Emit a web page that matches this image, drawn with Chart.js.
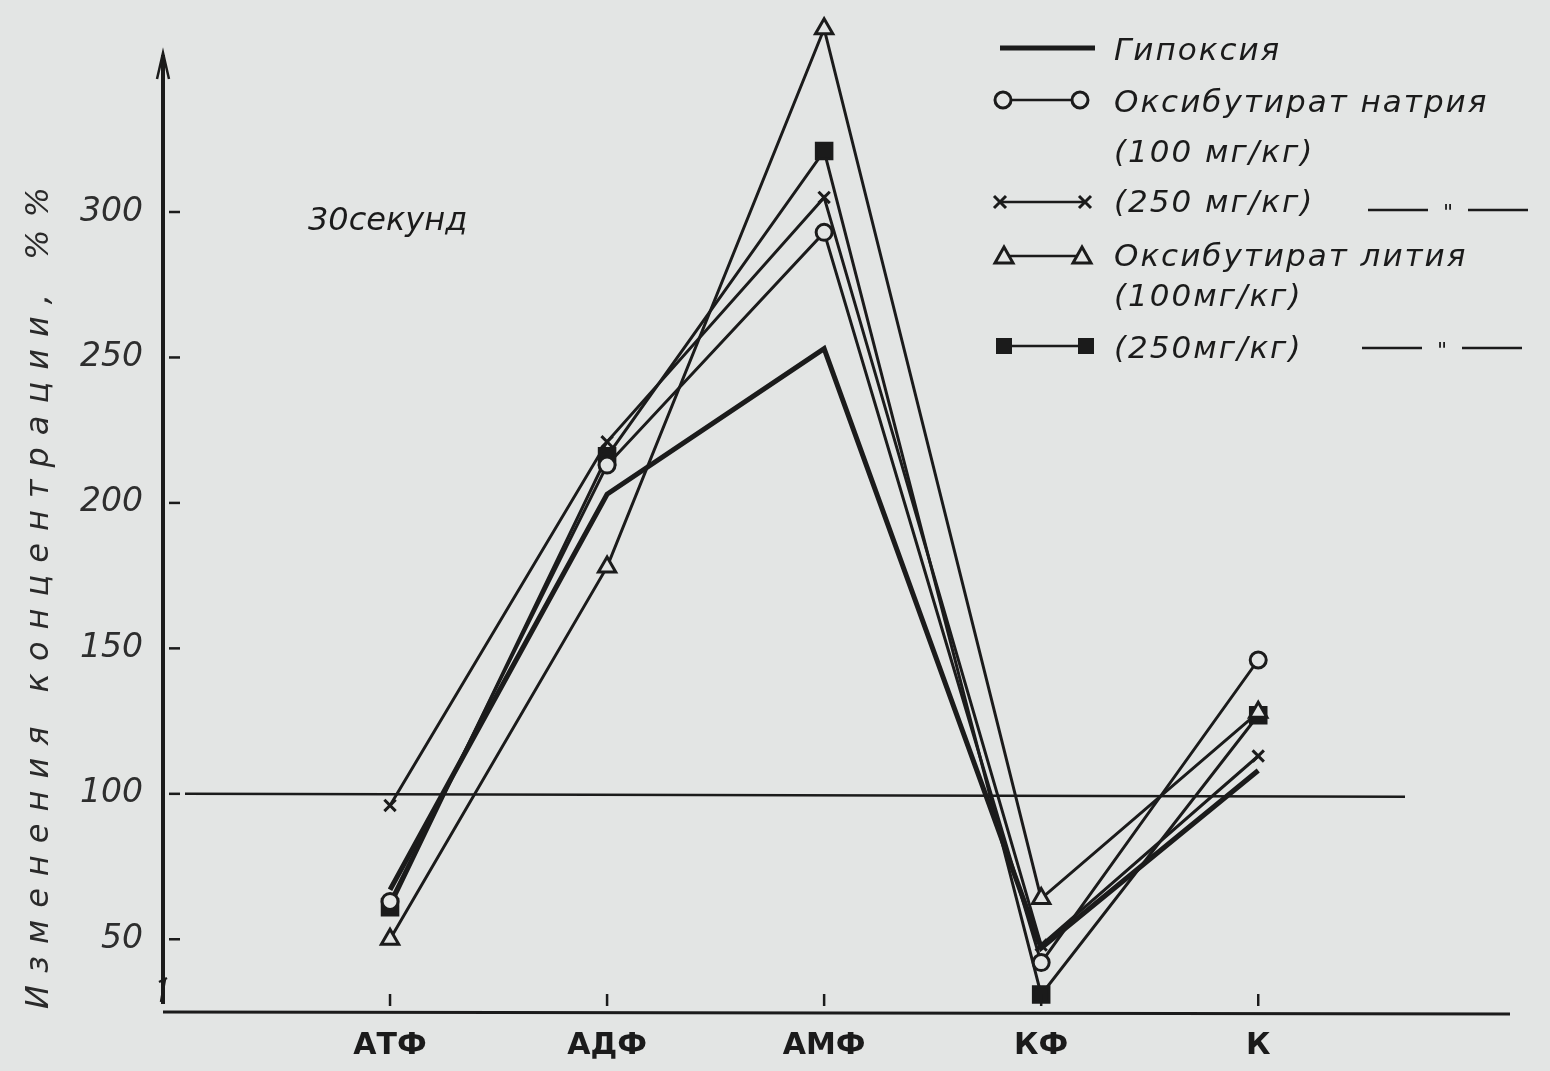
<!DOCTYPE html>
<html lang="ru">
<head>
<meta charset="utf-8">
<title>30 секунд</title>
<script src="https://cdn.jsdelivr.net/npm/chart.js@4.4.1/dist/chart.umd.min.js"></script>
<style>
  html, body { margin: 0; padding: 0; background: #e3e5e4; }
  #wrap { width: 1550px; height: 1071px; }
</style>
</head>
<body>
<div id="wrap"><canvas id="myChart" width="1550" height="1071"></canvas></div>
<script>
// values, % of control
const categories = ['АТФ', 'АДФ', 'АМФ', 'КФ', 'К'];
const hypoxia    = [67, 203, 253, 47, 108];
const natrium100 = [63, 213, 293, 42, 146];
const natrium250 = [96, 221, 305, 48, 113];
const lithium100 = [50, 178, 363, 64, 128];
const lithium250 = [61, 216, 321, 31, 127];
const yTicks = [50, 100, 150, 200, 250, 300];
const baseline = 100;
const axisTop = 354;

const ink = '#1b1b1b';
const paper = '#e3e5e4';
const fam = "'DejaVu Sans', sans-serif";

const toPoints = arr => arr.map((v, i) => ({ x: i, y: v }));

function lineSet(label, data, extra) {
  return Object.assign({
    label: label,
    data: toPoints(data),
    borderColor: ink,
    borderWidth: 3,
    pointBorderColor: ink,
    pointBackgroundColor: paper,
    pointBorderWidth: 3,
    tension: 0,
    clip: false
  }, extra);
}

// legend, title, axes drawn by hand like the original drawing
function marker(ctx, kind, x, y) {
  ctx.save();
  ctx.lineWidth = 3;
  ctx.strokeStyle = ink;
  ctx.fillStyle = paper;
  ctx.beginPath();
  if (kind === 'circle') {
    ctx.arc(x, y, 8, 0, Math.PI * 2);
    ctx.fill(); ctx.stroke();
  } else if (kind === 'tri') {
    ctx.moveTo(x, y - 9); ctx.lineTo(x + 9, y + 7); ctx.lineTo(x - 9, y + 7); ctx.closePath();
    ctx.fill(); ctx.stroke();
  } else if (kind === 'rect') {
    ctx.fillStyle = ink;
    ctx.rect(x - 8, y - 8, 16, 16);
    ctx.fill();
  } else if (kind === 'cross') {
    ctx.moveTo(x - 6, y - 6); ctx.lineTo(x + 6, y + 6);
    ctx.moveTo(x + 6, y - 6); ctx.lineTo(x - 6, y + 6);
    ctx.stroke();
  }
  ctx.restore();
}

function ditto(ctx, x, y) {
  ctx.save();
  ctx.strokeStyle = ink;
  ctx.lineWidth = 2.5;
  ctx.beginPath();
  ctx.moveTo(x, y); ctx.lineTo(x + 60, y);
  ctx.moveTo(x + 100, y); ctx.lineTo(x + 160, y);
  ctx.stroke();
  ctx.fillStyle = ink;
  ctx.font = 'italic 22px ' + fam;
  ctx.textAlign = 'center';
  ctx.textBaseline = 'middle';
  ctx.fillText('"', x + 80, y + 4);
  ctx.restore();
}

const decor = {
  id: 'decor',
  beforeDraw(chart) {
    const ctx = chart.ctx;
    ctx.save();
    ctx.fillStyle = paper;
    ctx.fillRect(0, 0, chart.width, chart.height);
    ctx.restore();
  },
  beforeDatasetsDraw(chart) {
    const ctx = chart.ctx, y = chart.scales.y, a = chart.chartArea;
    const py = y.getPixelForValue(baseline);
    ctx.save();
    ctx.strokeStyle = ink;
    ctx.lineWidth = 2.5;
    ctx.beginPath();
    ctx.moveTo(a.left + 22, py);
    ctx.lineTo(a.right - 105, py + 3);
    ctx.stroke();
    ctx.restore();
  },
  afterDraw(chart) {
    const ctx = chart.ctx, a = chart.chartArea;
    const x = chart.scales.x, y = chart.scales.y;
    ctx.save();
    ctx.strokeStyle = ink;
    ctx.fillStyle = ink;

    // y axis with arrow
    const top = y.getPixelForValue(axisTop);
    ctx.lineWidth = 4;
    ctx.beginPath();
    ctx.moveTo(a.left, top);
    ctx.lineTo(a.left, a.bottom - 8);
    ctx.stroke();
    ctx.lineWidth = 2.5;
    ctx.beginPath();
    ctx.moveTo(a.left - 6, top + 24);
    ctx.lineTo(a.left, top - 2);
    ctx.lineTo(a.left + 6, top + 24);
    ctx.stroke();

    // axis break sign
    ctx.lineWidth = 2.5;
    ctx.beginPath();
    ctx.moveTo(a.left - 4, a.bottom - 30);
    ctx.lineTo(a.left + 4, a.bottom - 34);
    ctx.moveTo(a.left + 2, a.bottom - 33);
    ctx.lineTo(a.left - 2, a.bottom - 10);
    ctx.stroke();

    // x axis
    ctx.lineWidth = 3;
    ctx.beginPath();
    ctx.moveTo(a.left, a.bottom);
    ctx.lineTo(a.right, a.bottom + 2);
    ctx.stroke();

    // inner tick marks
    ctx.lineWidth = 2.5;
    yTicks.forEach(v => {
      const p = y.getPixelForValue(v);
      ctx.beginPath();
      ctx.moveTo(a.left + 6, p);
      ctx.lineTo(a.left + 17, p);
      ctx.stroke();
    });
    categories.forEach((c, i) => {
      const p = x.getPixelForValue(i);
      ctx.beginPath();
      ctx.moveTo(p, a.bottom - 18);
      ctx.lineTo(p, a.bottom - 6);
      ctx.stroke();
    });

    // y axis title
    ctx.save();
    ctx.translate(40, 592);
    ctx.rotate(-Math.PI / 2);
    ctx.font = 'italic 32px ' + fam;
    ctx.letterSpacing = '12px';
    ctx.textAlign = 'center';
    ctx.textBaseline = 'middle';
    ctx.fillStyle = '#2a2a2a';
    ctx.fillText('Изменения концентрации, %%', 0, 0);
    ctx.restore();

    // panel note
    ctx.font = 'italic 32px ' + fam;
    ctx.textAlign = 'left';
    ctx.textBaseline = 'middle';
    ctx.fillText('30секунд', 308, 222);

    // legend
    ctx.lineWidth = 5;
    ctx.beginPath();
    ctx.moveTo(1000, 48); ctx.lineTo(1095, 48);
    ctx.stroke();
    [[100, 'circle', 1003, 1080], [202, 'cross', 1000, 1085], [256, 'tri', 1004, 1082], [346, 'rect', 1004, 1086]]
      .forEach(([py, kind, x1, x2]) => {
        ctx.lineWidth = 2.5;
        ctx.beginPath();
        ctx.moveTo(x1, py); ctx.lineTo(x2, py);
        ctx.stroke();
        marker(ctx, kind, x1, py);
        marker(ctx, kind, x2, py);
      });

    ctx.font = 'italic 31px ' + fam;
    ctx.letterSpacing = '2px';
    ctx.fillStyle = ink;
    ctx.fillText('Гипоксия', 1114, 52);
    ctx.fillText('Оксибутират натрия', 1114, 104);
    ctx.fillText('(100 мг/кг)', 1114, 154);
    ctx.fillText('(250 мг/кг)', 1114, 204);
    ctx.fillText('Оксибутират лития', 1114, 258);
    ctx.fillText('(100мг/кг)', 1114, 298);
    ctx.fillText('(250мг/кг)', 1114, 350);
    ctx.letterSpacing = '0px';
    ditto(ctx, 1368, 210);
    ditto(ctx, 1362, 348);
    ctx.restore();
  }
};

const ctx = document.getElementById('myChart');
const chart = new Chart(ctx, {
  type: 'line',
  data: {
    datasets: [
      lineSet('Гипоксия', hypoxia, { borderWidth: 5, pointRadius: 0 }),
      lineSet('Оксибутират натрия (100 мг/кг)', natrium100, { pointStyle: 'circle', pointRadius: 8 }),
      lineSet('Оксибутират натрия (250 мг/кг)', natrium250, { pointStyle: 'crossRot', pointRadius: 8 }),
      lineSet('Оксибутират лития (100 мг/кг)', lithium100, { pointStyle: 'triangle', pointRadius: 10 }),
      lineSet('Оксибутират лития (250 мг/кг)', lithium250, { pointStyle: 'rect', pointRadius: 11, pointBackgroundColor: ink })
    ]
  },
  options: {
    responsive: false,
    animation: false,
    devicePixelRatio: 1,
    layout: { padding: { left: 0, right: 40, top: 20, bottom: 0 } },
    plugins: {
      legend: { display: false },
      tooltip: { enabled: false }
    },
    scales: {
      x: {
        type: 'linear',
        min: -1.046,
        max: 5.16,
        afterFit: s => { s.height = 59; s.paddingLeft = 0; s.paddingRight = 0; },
        afterBuildTicks: s => { s.ticks = categories.map((c, i) => ({ value: i })); },
        grid: { display: false, drawTicks: false },
        border: { display: false },
        ticks: {
          padding: 16,
          color: ink,
          font: { family: fam, size: 30, weight: 'bold' },
          callback: v => categories[v]
        }
      },
      y: {
        min: 25,
        max: 366,
        afterFit: s => { s.width = 163; s.paddingTop = 0; s.paddingBottom = 0; },
        afterBuildTicks: s => { s.ticks = yTicks.map(v => ({ value: v })); },
        grid: { display: false, drawTicks: false },
        border: { display: false },
        ticks: {
          padding: 20,
          color: '#2e2e2e',
          font: { family: fam, size: 33, style: 'italic' }
        }
      }
    }
  },
  plugins: [decor]
});
</script>
</body>
</html>
